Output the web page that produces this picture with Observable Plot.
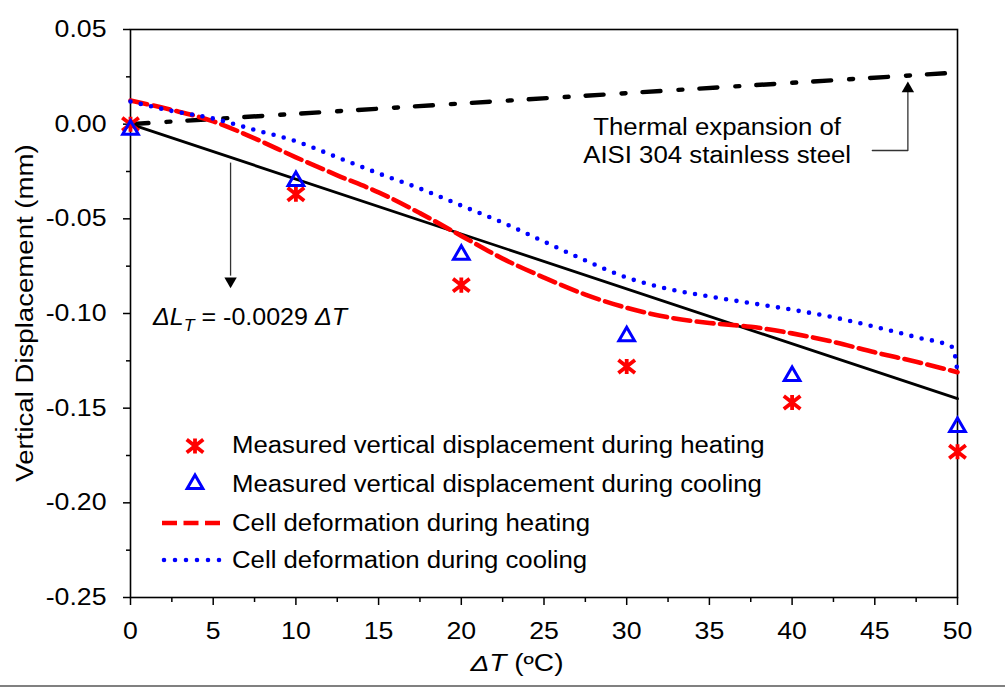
<!DOCTYPE html>
<html>
<head>
<meta charset="utf-8">
<script src="https://cdn.jsdelivr.net/npm/d3@7"></script>
<script src="https://cdn.jsdelivr.net/npm/@observablehq/plot@0.6"></script>
<style>
  html, body { margin: 0; padding: 0; background: #fff; }
  #chart { width: 1005px; height: 687px; position: relative; overflow: hidden; }
</style>
</head>
<body>
<div id="chart"></div>
<script>
// ---------------- data ----------------
const xTicks = [0, 5, 10, 15, 20, 25, 30, 35, 40, 45, 50];
const xMinorTicks = [2.5, 7.5, 12.5, 17.5, 22.5, 27.5, 32.5, 37.5, 42.5, 47.5];
const yTicks = [0.05, 0, -0.05, -0.1, -0.15, -0.2, -0.25];
const yMinorTicks = [0.025, -0.025, -0.075, -0.125, -0.175, -0.225];

const temps = [0, 10, 20, 30, 40, 50];
const heatMeasured = [0.000, -0.037, -0.085, -0.128, -0.147, -0.173];
const coolMeasured = [-0.003, -0.030, -0.069, -0.112, -0.133, -0.160];

const heatCurveT = [0, 2.5, 5, 7.5, 10, 12.5, 15, 17.5, 20, 22.5, 25, 27.5, 30, 32.5, 35, 37.5, 40, 42.5, 45, 47.5, 50];
const heatCurveV = [0.0125, 0.0075, 0.0015, -0.0075, -0.0175, -0.027, -0.036, -0.047, -0.059, -0.071, -0.081, -0.090, -0.097, -0.102, -0.105, -0.107, -0.1105, -0.115, -0.1205, -0.1255, -0.131];

const coolCurveT = [0, 2.5, 5, 7.5, 10, 12.5, 15, 17.5, 20, 22.5, 25, 27.5, 30, 32.5, 35, 37.5, 40, 42.5, 45, 47.5, 49.7, 50];
const coolCurveV = [0.012, 0.007, 0.003, -0.003, -0.009, -0.0175, -0.026, -0.034, -0.043, -0.052, -0.062, -0.072, -0.081, -0.087, -0.091, -0.0945, -0.098, -0.102, -0.107, -0.1125, -0.1178, -0.131];

const fitT = [0, 50];
const fitSlope = -0.0029;

const thermalT = [0, 50];
const thermalV = [0.0, 0.0273];

const legendLabels = [
  "Measured vertical displacement during heating",
  "Measured vertical displacement during cooling",
  "Cell deformation during heating",
  "Cell deformation during cooling"
];

const RED = "#ff0000";
const BLUE = "#0000ff";
const FONT = "'Liberation Sans', Arial, Helvetica, sans-serif";

// ---------------- tables ----------------
const heatPts = temps.map((t, i) => ({t, v: heatMeasured[i]}));
const coolPts = temps.map((t, i) => ({t, v: coolMeasured[i]}));
const heatCurve = heatCurveT.map((t, i) => ({t, v: heatCurveV[i]}));
const coolCurve = coolCurveT.map((t, i) => ({t, v: coolCurveV[i]}));
const fitLine = fitT.map(t => ({t, v: fitSlope * t}));
const thermalLine = thermalT.map((t, i) => ({t, v: thermalV[i]}));

// annotation arrows (data coordinates)
const fitArrowX = 6.05;
const fitArrow = [{x1: fitArrowX, y1: -0.0203, x2: fitArrowX, y2: -0.080}];
const fitArrowTip = [{t: fitArrowX, v: -0.0863}];
const thermArrow = [{t: 44.85, v: -0.0139}, {t: 47, v: -0.0139}, {t: 47, v: 0.019}];
const thermArrowTip = [{t: 47, v: 0.0222}];

// custom "star" marker (X with vertical bar)
const starSymbol = {
  draw(ctx, size) {
    const s = Math.sqrt(size) / 16;
    const a = 7.5 * s, b = 5.8 * s, c = 6.8 * s;
    ctx.moveTo(-a, -b); ctx.lineTo(a, b);
    ctx.moveTo(-a, b); ctx.lineTo(a, -b);
    ctx.moveTo(0, -c); ctx.lineTo(0, c);
  }
};

const chart = Plot.plot({
  width: 1005,
  height: 687,
  marginLeft: 130,
  marginRight: 48,
  marginTop: 29,
  marginBottom: 90,
  style: {fontFamily: FONT, fontSize: "23px", background: "#fff", color: "#000", overflow: "visible"},
  x: {domain: [0, 50], label: null},
  y: {domain: [-0.25, 0.05], label: null},
  marks: [
    Plot.axisX({ticks: xMinorTicks, tickSize: 5, tickFormat: () => "", label: null, strokeWidth: 1.5}),
    Plot.axisX({ticks: xTicks, tickSize: 8, tickPadding: 17, tickFormat: d => String(d), label: null, strokeWidth: 1.5, fontSize: 23}),
    Plot.axisY({ticks: yMinorTicks, tickSize: 4, tickFormat: () => "", label: null, strokeWidth: 1.5}),
    Plot.axisY({ticks: yTicks, tickSize: 7, tickPadding: 17, tickFormat: d => d.toFixed(2), label: null, strokeWidth: 1.5, fontSize: 23}),
    Plot.frame({stroke: "#000", strokeWidth: 1.6}),
    // thermal expansion line
    Plot.line(thermalLine, {x: "t", y: "v", stroke: "#000", strokeWidth: 4.4, strokeDasharray: "18,18,4,17"}),
    // linear fit
    Plot.line(fitLine, {x: "t", y: "v", stroke: "#000", strokeWidth: 2.8}),
    // cell deformation curves
    Plot.line(heatCurve, {x: "t", y: "v", stroke: RED, strokeWidth: 4.6, strokeDasharray: "17,6.5", curve: "monotone-x"}),
    Plot.line(coolCurve, {x: "t", y: "v", stroke: BLUE, strokeWidth: 4.6, strokeDasharray: "0,10.5", strokeLinecap: "round", curve: "monotone-x"}),
    // arrows
    Plot.link(fitArrow, {x1: "x1", y1: "y1", x2: "x2", y2: "y2", stroke: "#333", strokeWidth: 1.3}),
    Plot.dot(fitArrowTip, {x: "t", y: "v", symbol: "triangle", rotate: 180, r: 4.6, fill: "#000", stroke: "none", dy: -6.5}),
    Plot.line(thermArrow, {x: "t", y: "v", stroke: "#333", strokeWidth: 1.3}),
    Plot.dot(thermArrowTip, {x: "t", y: "v", symbol: "triangle", r: 4.6, fill: "#000", stroke: "none", dy: 6.5}),
    // measured points
    Plot.dot(heatPts, {x: "t", y: "v", symbol: starSymbol, r: 10, fill: "none", stroke: RED, strokeWidth: 3.8}),
    Plot.dot(coolPts, {x: "t", y: "v", symbol: "triangle", r: 5.8, fill: "none", stroke: BLUE, strokeWidth: 3})
  ]
});

document.getElementById("chart").appendChild(chart);

function stretchText(node, factor, fixed) {
  const len = node.getComputedTextLength();
  if (!(len > 0)) return;
  node.setAttribute("textLength", (fixed != null ? fixed : len * factor).toFixed(1));
  node.setAttribute("lengthAdjust", "spacingAndGlyphs");
}

// stretch the axis tick labels like the reference's wide lettering
chart.querySelectorAll("text").forEach(t => stretchText(t, 1.16));

const svg = d3.select(chart);
const xs = chart.scale("x"), ys = chart.scale("y");
const X = v => xs.apply(v), Y = v => ys.apply(v);

const ann = svg.append("g").attr("font-family", FONT).attr("fill", "#000").attr("text-anchor", "start");

// y-axis title
const yTitle = ann.append("text")
  .attr("transform", `translate(33,${(Y(0.05) + Y(-0.25)) / 2}) rotate(-90)`)
  .attr("text-anchor", "middle")
  .attr("font-size", 23)
  .text("Vertical Displacement (mm)");
stretchText(yTitle.node(), 1.2);

// x-axis title
const xTitle = ann.append("text")
  .attr("x", 517).attr("y", 671)
  .attr("text-anchor", "middle")
  .attr("font-size", 23);
xTitle.append("tspan").attr("font-style", "italic").text("ΔT");
xTitle.append("tspan").text(" (ºC)");
stretchText(xTitle.node(), 1.22);

// fit equation
const eq = ann.append("text")
  .attr("x", 153).attr("y", 325)
  .attr("text-anchor", "start")
  .attr("font-size", 24);
eq.append("tspan").attr("font-style", "italic").text("ΔL");
eq.append("tspan").attr("font-style", "italic").attr("font-size", 17).attr("dy", 6).text("T");
eq.append("tspan").attr("dy", -6).text(" = -0.0029 ");
eq.append("tspan").attr("font-style", "italic").text("ΔT");
stretchText(eq.node(), 1, 194);

// thermal expansion note
const th1 = ann.append("text").attr("x", X(35.5)).attr("y", 135).attr("text-anchor", "middle").attr("font-size", 23).text("Thermal expansion of");
const th2 = ann.append("text").attr("x", X(35.5)).attr("y", 163).attr("text-anchor", "middle").attr("font-size", 23).text("AISI 304 stainless steel");
stretchText(th1.node(), 1.12);
stretchText(th2.node(), 1.12);

// legend
const lg = svg.append("g").attr("font-family", FONT).attr("text-anchor", "start");
const rows = [446, 484, 523, 560];
const baselines = [453, 492, 531, 568];
// star marker
lg.append("path")
  .attr("transform", `translate(195,${rows[0]})`)
  .attr("d", d3.symbol(starSymbol, Math.PI * 100)())
  .attr("fill", "none").attr("stroke", RED).attr("stroke-width", 3.8);
// triangle
lg.append("path")
  .attr("transform", `translate(195,${rows[1]})`)
  .attr("d", d3.symbol(d3.symbolTriangle, Math.PI * 5.8 * 5.8)())
  .attr("fill", "none").attr("stroke", BLUE).attr("stroke-width", 3);
// dashed red
lg.append("line").attr("x1", 162).attr("x2", 220).attr("y1", rows[2]).attr("y2", rows[2])
  .attr("stroke", RED).attr("stroke-width", 4.6).attr("stroke-dasharray", "15,6.5");
// dotted blue
lg.append("line").attr("x1", 164).attr("x2", 220).attr("y1", rows[3]).attr("y2", rows[3])
  .attr("stroke", BLUE).attr("stroke-width", 4.6).attr("stroke-dasharray", "0,11").attr("stroke-linecap", "round");
legendLabels.forEach((s, i) => {
  const t = lg.append("text").attr("x", 232).attr("y", baselines[i]).attr("text-anchor", "start")
    .attr("font-size", 23).attr("fill", "#000").text(s);
  stretchText(t.node(), 1.12);
});

// bottom gray rule of the figure
svg.append("line").attr("x1", 0).attr("x2", 1005).attr("y1", 686).attr("y2", 686)
  .attr("stroke", "#808080").attr("stroke-width", 2);
</script>
</body>
</html>
